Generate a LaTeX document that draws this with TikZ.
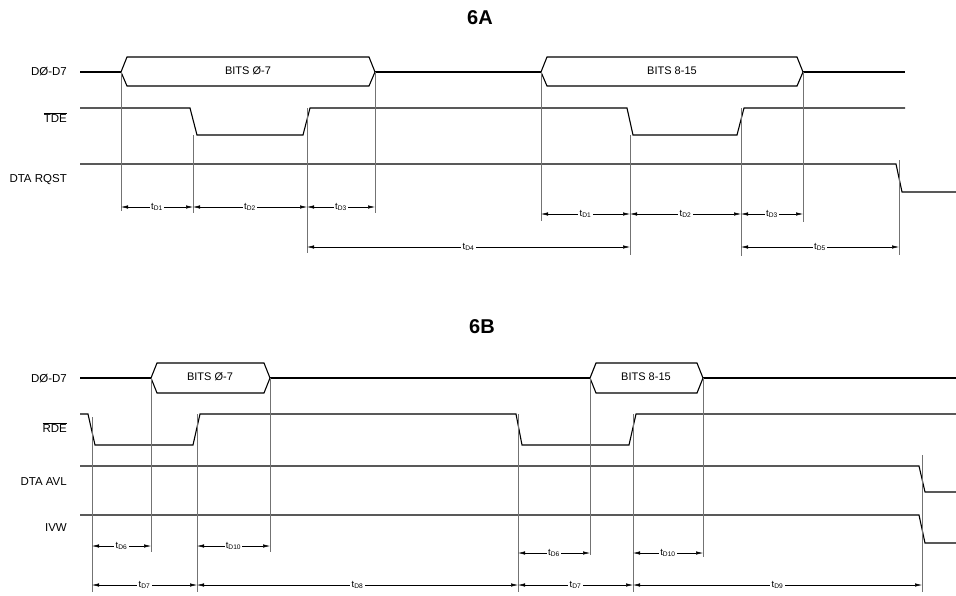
\documentclass[tikz,border=0pt]{standalone}
\usepackage{fontspec}
\setmainfont{Liberation Sans}
\usetikzlibrary{arrows.meta, positioning, calc}

\newcommand{\tdly}[1]{t\textsubscript{D#1}}
\newcommand{\ovbar}[1]{\vbox{\hrule height 0.5pt\kern1.3pt\hbox{#1}}}

\begin{document}
\begin{tikzpicture}[
    x=1pt, y=-1pt,
    signal/.style={line width=1.1pt, line join=miter},
    guide/.style={black!55, line width=0.4pt},
    dim/.style={line width=0.5pt, {Latex[length=7pt,width=3.4pt]}-{Latex[length=7pt,width=3.4pt]}},
    tlabel/.style={fill=white, inner sep=1.2pt, font=\fontsize{9.5}{10}\selectfont},
    signame/.style={anchor=east, inner sep=0pt, font=\fontsize{11.5}{13}\selectfont},
    bits/.style={font=\fontsize{11}{13}\selectfont},
    title/.style={font=\bfseries\fontsize{20}{24}\selectfont}
]
\useasboundingbox (0,0) rectangle (956,595);

% ---- 6A ----
\node[title] (ttlA) at (480,18) {6A};
\node[signame] (dA) at (67,72) {DØ-D7};
\node[signame] (tde) at (67,118) {\ovbar{TDE}};
\node[signame] (rqst) at (67,180) {DTA RQST};

% data bus
\draw[signal] (80,72) -- (121,72) (375,72) -- (541,72) (803,72) -- (905,72);
\draw[signal] (121,72) -- (127,57) -- (369,57) -- (375,72) -- (369,86) -- (127,86) -- cycle;
\draw[signal] (541,72) -- (547,57) -- (797,57) -- (803,72) -- (797,86) -- (547,86) -- cycle;
\node[bits] (b07A) at (248,71) {BITS Ø-7};
\node[bits] (b815A) at (672,71) {BITS 8-15};

% strobes
\draw[signal] (80,108) -- (190,108) -- (197,135) -- (303,135) -- (310,108) -- (627,108)
    -- (633,135) -- (737,135) -- (744,108) -- (905,108);
\draw[signal] (80,164) -- (896,164) -- (902,192) -- (956,192);

% guide lines
\foreach \x/\ya/\yb in {121/72/211, 193/135/213, 307/108/253, 375/72/213,
    541/72/221, 630/135/255, 741/108/256, 803/72/222, 899/160/255}
    \draw[guide] (\x,\ya) -- (\x,\yb);

% timings
\foreach \xa/\xb/\y/\n in {121/193/207/1, 193/307/207/2, 307/375/207/3,
    541/630/214/1, 630/741/214/2, 741/803/214/3, 307/630/247/4, 741/899/247/5} {
    \coordinate (s) at (\xa,\y);
    \coordinate (e) at (\xb,\y);
    \draw[dim] (s) -- node[tlabel] {\tdly{\n}} (e);
}

% ---- 6B ----
\node[title] (ttlB) at (482,327) {6B};
\node[signame] (dB) at (67,379) {DØ-D7};
\node[signame] (rde) at (67,428) {\ovbar{RDE}};
\node[signame] (avl) at (67,482) {DTA AVL};
\node[signame] (ivw) at (67,528) {IVW};

% data bus
\draw[signal] (80,378) -- (151,378) (270,378) -- (590,378) (703,378) -- (956,378);
\draw[signal] (151,378) -- (157,363) -- (264,363) -- (270,378) -- (264,393) -- (157,393) -- cycle;
\draw[signal] (590,378) -- (596,363) -- (697,363) -- (703,378) -- (697,393) -- (596,393) -- cycle;
\node[bits] (b07B) at (210,377) {BITS Ø-7};
\node[bits] (b815B) at (646,377) {BITS 8-15};

% strobes
\draw[signal] (80,414) -- (88,414) -- (95,445) -- (193,445) -- (200,414) -- (516,414)
    -- (522,445) -- (629,445) -- (636,414) -- (956,414);
\draw[signal] (80,466) -- (919,466) -- (925,492) -- (956,492);
\draw[signal] (80,515) -- (919,515) -- (925,543) -- (956,543);

% guide lines
\foreach \x/\ya/\yb in {92/417/592, 151/378/552, 197/414/592, 270/378/552,
    518/414/592, 590/378/555, 633/414/592, 703/378/557, 922/455/592}
    \draw[guide] (\x,\ya) -- (\x,\yb);

% timings
\foreach \xa/\xb/\y/\n in {92/151/546/6, 197/270/546/10, 518/590/553/6, 633/703/553/10,
    92/197/585/7, 197/518/585/8, 518/633/585/7, 633/922/585/9} {
    \coordinate (s) at (\xa,\y);
    \coordinate (e) at (\xb,\y);
    \draw[dim] (s) -- node[tlabel] {\tdly{\n}} (e);
}

\end{tikzpicture}
\end{document}
